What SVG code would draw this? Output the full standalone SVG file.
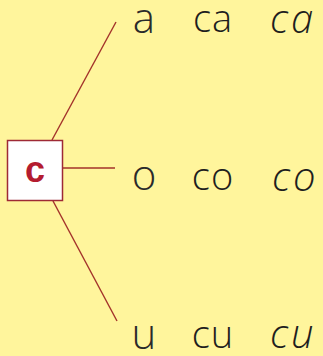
<svg xmlns="http://www.w3.org/2000/svg" width="323" height="356" viewBox="0 0 323 356">
<style>
.bg{fill:#fff59c}
.ln{stroke:#a3322a;stroke-width:1.4;fill:none}
.box{fill:#ffffff;stroke:#9e2a35;stroke-width:1.5}
.key{font-family:"Liberation Sans",sans-serif;font-weight:bold;font-size:36px;fill:#b41c30;text-anchor:middle}
.big{font-family:"Open Sans","DejaVu Sans",sans-serif;font-weight:300;font-size:42px;fill:#2a2a2a;text-anchor:middle}
.syl{font-family:"Open Sans","DejaVu Sans",sans-serif;font-weight:300;font-size:38px;letter-spacing:1px;fill:#1e1e1e;text-anchor:middle}
.cur{font-family:"Open Sans","DejaVu Sans",sans-serif;font-style:italic;font-weight:300;font-size:40px;letter-spacing:3px;fill:#1e1e1e}
</style>
<rect class="bg" x="0" y="0" width="323" height="356"/>
<g id="connectors">
<line class="ln" x1="52" y1="140" x2="116" y2="22"/>
<line class="ln" x1="63" y1="168" x2="115" y2="168"/>
<line class="ln" x1="53" y1="201" x2="117" y2="321"/>
</g>
<g id="node-c">
<rect class="box" x="7.5" y="140.5" width="55" height="60"/>
<text class="key" x="35" y="182">c</text>
</g>
<g id="row-a">
<text class="big" x="144" y="33">a</text>
<text class="syl" x="213" y="32">ca</text>
<text class="cur" x="270" y="33">ca</text>
</g>
<g id="row-o">
<text class="big" x="144" y="190">o</text>
<text class="syl" x="213" y="190">co</text>
<text class="cur" x="272" y="191">co</text>
</g>
<g id="row-u">
<text class="big" x="144" y="349">u</text>
<text class="syl" x="213" y="348">cu</text>
<text class="cur" x="270" y="348">cu</text>
</g>
</svg>
